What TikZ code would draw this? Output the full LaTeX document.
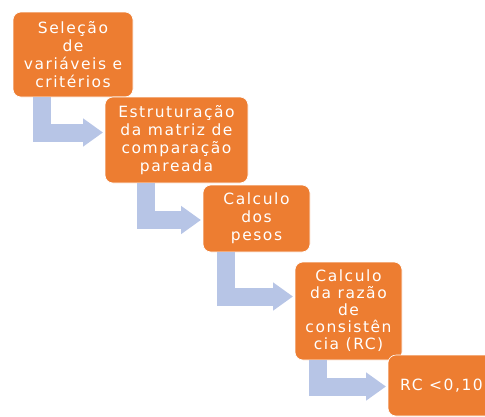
\documentclass[tikz,border=0pt]{standalone}
\usepackage{fontspec}
\usepackage{tikz}
\usetikzlibrary{positioning,arrows.meta}
\newfontfamily\boxfont{DejaVu Sans}[LetterSpace=10]
\definecolor{boxorange}{RGB}{237,125,49}
\definecolor{flowblue}{RGB}{183,197,230}

\begin{document}
\begin{tikzpicture}[x=1pt,y=-1pt]
		\tikzstyle{stage}=[rectangle, rounded corners=8pt, fill=boxorange, draw=white, line width=0.6pt, inner sep=0pt, outer sep=0pt, align=center, text=white, font=\boxfont\fontsize{15.5}{18}\selectfont]
		\tikzstyle{connect}=[-{Triangle[width=27pt,length=20pt]}, line width=18pt, draw=flowblue, shorten >=2pt, to path={|- (\tikztotarget)}]
		\useasboundingbox (0,0) rectangle (485,416);
		\clip (0,0) rectangle (485,416);
		\node[stage, minimum width=120pt, minimum height=85pt] (sel) at (73,54.5) {Seleção\\de\\variáveis e\\critérios};
			\node[stage, minimum width=143pt, minimum height=86pt] (mat) [below right=0pt and -28pt of sel] {Estruturação\\da matriz de\\comparação\\pareada};
				\node[stage, minimum width=107pt, minimum height=67pt] (pes) [below right=2pt and -45pt of mat] {Calculo\\dos\\pesos};
					\node[stage, minimum width=107pt, minimum height=98pt, font=\boxfont\fontsize{15.5}{17}\selectfont] (raz) [below right=10pt and -15pt of pes] {Calculo\\da razão\\de\\consistên\\cia (RC)};
						\node[stage, minimum width=107pt, minimum height=61pt] (rc) [below right=-5pt and -14pt of raz] {RC <0,10};

		\coordinate (s1) at ([xshift=-31pt]sel.south);
		\coordinate (e1) at ([yshift=7.5pt]mat.west);
		\coordinate (s2) at ([xshift=-31pt]mat.south);
		\coordinate (e2) at ([yshift=-1.5pt]pes.west);
		\coordinate (s3) at ([xshift=-31pt]pes.south);
		\coordinate (e3) at ([yshift=14.5pt]raz.west);
		\coordinate (s4) at ([xshift=-31pt]raz.south);
		\coordinate (e4) at ([yshift=-1pt]rc.west);

		\path (s1) edge [connect] (e1)
			(s2) edge [connect] (e2)
				(s3) edge [connect] (e3)
					(s4) edge [connect] (e4);
\end{tikzpicture}
\end{document}
